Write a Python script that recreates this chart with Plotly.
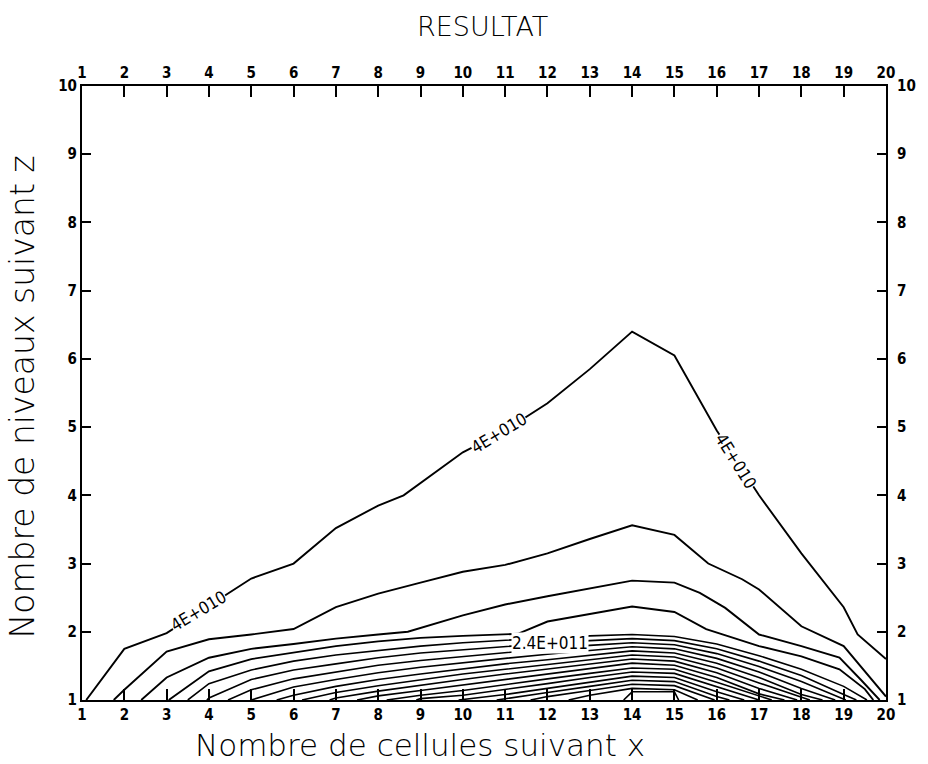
import plotly.graph_objects as go

# ---------------- data ----------------
X_TICKS = list(range(1, 21))
Y_TICKS = list(range(1, 11))

# contour lines, outermost (4E+010) first, (x, z) pairs
C01 = [(1.1, 1.0), (2, 1.75), (3, 1.98), (4, 2.38), (5, 2.78), (6, 3.0), (7, 3.52), (8, 3.85), (8.6, 4.0),
       (10, 4.63), (11, 4.95), (12, 5.35), (13, 5.85), (14, 6.4), (15, 6.05), (16, 4.95), (17, 4.0),
       (18, 3.15), (19, 2.36), (19.33, 1.96), (20, 1.6)]
C02 = [(1.75, 1.0), (2, 1.15), (3, 1.71), (4, 1.89), (5, 1.96), (6, 2.04), (7, 2.36), (8, 2.56), (9, 2.72),
       (10, 2.88), (11, 2.98), (12, 3.15), (13, 3.36), (14, 3.56), (15, 3.42), (15.8, 3.0), (16.6, 2.77),
       (17, 2.62), (18, 2.08), (19, 1.79), (20, 1.05)]
C03 = [(2.4, 1.0), (3, 1.33), (4, 1.62), (5, 1.75), (6, 1.82), (7, 1.9), (8, 1.96), (8.7, 2.0), (10, 2.24),
       (11, 2.4), (12, 2.52), (13, 2.63), (14, 2.75), (15, 2.72), (15.6, 2.57), (16.2, 2.35), (17, 1.96),
       (18, 1.79), (18.9, 1.62), (19.4, 1.3), (19.85, 1.0)]
C04 = [(3.05, 1.0), (4, 1.42), (5, 1.6), (6, 1.7), (7, 1.79), (8, 1.86), (9, 1.91), (10, 1.94), (11.3, 1.97),
       (12, 2.15), (13, 2.26), (14, 2.37), (15, 2.29), (15.75, 2.04), (17, 1.79), (18, 1.64), (18.9, 1.45),
       (19.5, 1.16), (19.7, 1.0)]
C05 = [(3.5, 1.0), (4, 1.24), (5, 1.44), (6, 1.57), (7, 1.66), (8, 1.73), (9, 1.79), (10, 1.84), (11, 1.88),
       (12, 1.91), (13, 1.94), (14, 1.96), (15, 1.93), (16, 1.82), (17, 1.65), (18, 1.45), (19, 1.2), (19.55, 1.0)]
C06 = [(3.95, 1.0), (4, 1.03), (5, 1.3), (6, 1.44), (7, 1.53), (8, 1.62), (9, 1.69), (10, 1.74), (11, 1.79),
       (12, 1.83), (13, 1.87), (14, 1.9), (15, 1.87), (16, 1.75), (17, 1.57), (18, 1.36), (19, 1.08), (19.3, 1.0)]
C07 = [(4.45, 1.0), (5, 1.15), (6, 1.31), (7, 1.41), (8, 1.51), (9, 1.58), (10, 1.64), (11, 1.7), (12, 1.75),
       (13, 1.8), (14, 1.84), (15, 1.81), (16, 1.68), (17, 1.49), (18, 1.27), (19.05, 1.0)]
C08 = [(5.0, 1.0), (6, 1.19), (7, 1.3), (8, 1.4), (9, 1.48), (10, 1.55), (11, 1.61), (12, 1.67), (13, 1.73),
       (14, 1.78), (15, 1.75), (16, 1.61), (17, 1.41), (18, 1.17), (18.8, 1.0)]
C09 = [(5.6, 1.0), (6, 1.07), (7, 1.2), (8, 1.3), (9, 1.38), (10, 1.46), (11, 1.53), (12, 1.59), (13, 1.66),
       (14, 1.72), (15, 1.69), (16, 1.54), (17, 1.33), (18, 1.08), (18.5, 1.0)]
C10 = [(6.2, 1.0), (7, 1.11), (8, 1.21), (9, 1.3), (10, 1.38), (11, 1.45), (12, 1.52), (13, 1.59), (14, 1.66),
       (15, 1.63), (16, 1.47), (17, 1.25), (18.2, 1.0)]
C11 = [(6.85, 1.0), (7, 1.03), (8, 1.13), (9, 1.22), (10, 1.3), (11, 1.38), (12, 1.45), (13, 1.53), (14, 1.6),
       (15, 1.57), (16, 1.4), (17, 1.17), (17.9, 1.0)]
C12 = [(7.5, 1.0), (8, 1.06), (9, 1.14), (10, 1.22), (11, 1.3), (12, 1.38), (13, 1.46), (14, 1.54), (15, 1.51),
       (16, 1.33), (17, 1.09), (17.6, 1.0)]
C13 = [(8.2, 1.0), (9, 1.07), (10, 1.14), (11, 1.23), (12, 1.31), (13, 1.39), (14, 1.47), (15, 1.45),
       (16, 1.26), (17.3, 1.0)]
C14 = [(8.9, 1.0), (9, 1.02), (10, 1.07), (11, 1.15), (12, 1.24), (13, 1.33), (14, 1.41), (15, 1.39),
       (16, 1.19), (17.0, 1.0)]
C15 = [(9.9, 1.0), (11, 1.08), (12, 1.17), (13, 1.26), (14, 1.35), (15, 1.33), (16, 1.12), (16.65, 1.0)]
C16 = [(10.8, 1.0), (11, 1.02), (12, 1.11), (13, 1.2), (14, 1.29), (15, 1.27), (16, 1.05), (16.3, 1.0)]
C17 = [(11.6, 1.0), (12, 1.05), (13, 1.14), (14, 1.23), (15, 1.21), (15.95, 1.0)]
C18 = [(12.5, 1.0), (13, 1.07), (14, 1.17), (15, 1.15), (15.55, 1.0)]
C19 = [(13.8, 1.0), (14, 1.12), (15, 1.12), (15.1, 1.0)]

CONTOURS = [C01, C02, C03, C04, C05, C06, C07, C08, C09, C10,
            C11, C12, C13, C14, C15, C16, C17, C18, C19]

LABEL_TEXT = ["4E+010", "4E+010", "4E+010", "2.4E+011"]
LABEL_X = [3.75, 10.85, 16.45, 12.05]
LABEL_Y = [2.3, 4.92, 4.5, 1.84]
LABEL_ANGLE = [-31, -31, 58, 0]

TITLE = "RESULTAT"
X_TITLE = "Nombre de cellules suivant x"
Y_TITLE = "Nombre de niveaux suivant z"

# ---------------- figure ----------------
L, R, T, B = 82, 36, 86, 64
W, H = 928, 764
PW, PH = W - L - R, H - T - B

fig = go.Figure()
for i, c in enumerate(CONTOURS):
    xs = [p[0] for p in c]
    ys = [p[1] for p in c]
    fig.add_trace(go.Scatter(
        x=xs, y=ys, mode="lines",
        line=dict(color="black", width=1.9 if i < 4 else 1.6),
        showlegend=False, hoverinfo="skip"))

# invisible trace so the mirrored axes get drawn
fig.add_trace(go.Scatter(x=[None], y=[None], xaxis="x2", yaxis="y2",
                         showlegend=False, hoverinfo="skip"))

tickfont = dict(family="DejaVu Sans Condensed, Liberation Sans Narrow, DejaVu Sans",
                size=15, color="black", weight="bold")
common_x = dict(range=[1, 20], tickvals=X_TICKS, ticktext=[str(v) for v in X_TICKS],
                ticks="inside", ticklen=11, tickwidth=2, tickcolor="black",
                showline=True, linecolor="black", linewidth=2,
                showgrid=False, zeroline=False, tickfont=tickfont, fixedrange=True)
common_y = dict(range=[1, 10], tickvals=Y_TICKS, ticktext=[str(v) for v in Y_TICKS],
                ticks="inside", ticklen=9, tickwidth=2, tickcolor="black",
                showline=True, linecolor="black", linewidth=2,
                showgrid=False, zeroline=False, tickfont=tickfont, fixedrange=True)

annotations = []
lab_font = dict(family="DejaVu Sans Condensed, DejaVu Sans", size=17, color="black")
for t, x, y, a in zip(LABEL_TEXT, LABEL_X, LABEL_Y, LABEL_ANGLE):
    annotations.append(dict(x=x, y=y, xref="x", yref="y", text=t, showarrow=False,
                            textangle=a, font=lab_font, bgcolor="white", borderpad=0))

title_font = dict(family="DejaVu Sans, sans-serif", size=27, color="black", weight=300)
annotations.append(dict(x=(485 - L) / PW, y=(H - B - 27) / PH, xref="paper", yref="paper",
                        text=TITLE, showarrow=False, font=title_font,
                        xanchor="center", yanchor="middle"))
annotations.append(dict(x=(423 - L) / PW, y=(H - B - 745) / PH, xref="paper", yref="paper",
                        text=X_TITLE, showarrow=False, font=dict(title_font, size=31),
                        xanchor="center", yanchor="middle"))
annotations.append(dict(x=(22 - L) / PW, y=(H - B - 397) / PH, xref="paper", yref="paper",
                        text=Y_TITLE, showarrow=False, font=dict(title_font, size=33),
                        textangle=-90, xanchor="center", yanchor="middle"))

fig.update_layout(
    width=W, height=H,
    margin=dict(l=L, r=R, t=T, b=B, pad=0),
    paper_bgcolor="white", plot_bgcolor="white",
    xaxis=dict(common_x, side="bottom", anchor="y"),
    xaxis2=dict(common_x, side="top", overlaying="x", anchor="y"),
    yaxis=dict(common_y, side="left", anchor="x"),
    yaxis2=dict(common_y, side="right", overlaying="y", anchor="x", ticklabelstandoff=6),
    annotations=annotations,
    showlegend=False,
)

fig.write_html("out.html")
